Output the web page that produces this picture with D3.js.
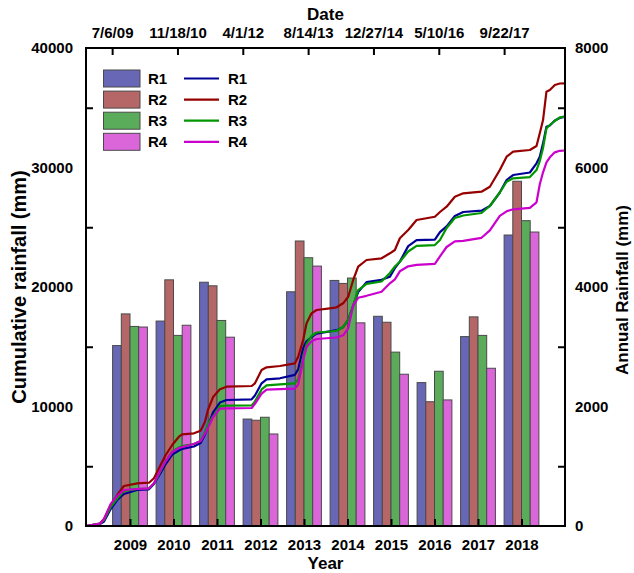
<!DOCTYPE html>
<html>
<head>
<meta charset="utf-8">
<script src="https://cdn.jsdelivr.net/npm/d3@7"></script>
<style>
  body { margin: 0; background: #fff; }
  text { font-family: "Liberation Sans", Arial, sans-serif; font-weight: bold; fill: #000; }
</style>
</head>
<body>
<svg id="chart" width="634" height="573"></svg>
<script>
// ---- Annual rainfall per gauge (mm), right axis ----
const years = [2009, 2010, 2011, 2012, 2013, 2014, 2015, 2016, 2017, 2018];
const seriesNames = ["R1", "R2", "R3", "R4"];
const annualR1 = [3020, 3430, 4080, 1790, 3920, 4110, 3510, 2400, 3170, 4870];
const annualR2 = [3550, 4120, 4020, 1770, 4770, 4060, 3410, 2080, 3500, 5770];
const annualR3 = [3340, 3190, 3440, 1820, 4490, 4150, 2910, 2590, 3190, 5110];
const annualR4 = [3330, 3360, 3160, 1540, 4350, 3400, 2540, 2110, 2640, 4920];

// ---- Cumulative rainfall per gauge (mm), left axis, against date ----
const cumDates = [
  "2008-12-18","2009-04-04","2009-05-05","2009-06-25","2009-08-14","2009-10-04",
  "2010-01-14","2010-04-14","2010-05-22","2010-07-12","2010-08-20","2010-10-09",
  "2010-11-29","2010-12-25","2011-03-24","2011-05-14","2011-06-16","2011-07-09",
  "2011-08-19","2011-10-09","2011-11-29","2012-06-08","2012-07-03","2012-08-23",
  "2012-09-30","2013-01-10","2013-05-05","2013-05-30","2013-07-07","2013-08-02",
  "2013-09-09","2013-10-18","2014-01-27","2014-03-20","2014-05-09","2014-06-17",
  "2014-07-25","2014-09-01","2014-11-04","2015-02-27","2015-05-02","2015-06-09",
  "2015-07-17","2015-09-19","2015-11-22","2016-04-10","2016-05-19","2016-07-09",
  "2016-09-10","2016-11-13","2017-04-02","2017-06-05","2017-08-20","2017-10-11",
  "2017-11-30","2018-04-07","2018-05-28","2018-06-22","2018-07-17","2018-08-12",
  "2018-09-07","2018-10-15","2018-11-22","2018-12-31"
];
const cumR1 = [
  0, 167, 377, 1423, 2176, 2678, 3012, 3071, 3515, 4435, 5188, 5983,
  6318, 6460, 6652, 6945, 7615, 8368, 9539, 10334, 10544, 10602, 10920, 11941,
  12276, 12360, 12652, 13113, 14900, 15453, 15804, 16097, 16290, 16390, 16642, 17270,
  18441, 19571, 20408, 20600, 20867, 21579, 22122, 23419, 23921, 23963, 24591, 25076,
  25951, 26276, 26385, 26778, 27908, 28954, 29372, 29581, 30349, 30907, 32021, 33414,
  33515, 33933, 34142, 34254
];
const cumR2 = [
  0, 209, 586, 1757, 2594, 3347, 3573, 3623, 3992, 5104, 5941, 6778,
  7473, 7673, 7757, 7975, 8703, 9707, 10820, 11439, 11657, 11715, 11941, 13054,
  13280, 13389, 13615, 14167, 15564, 16962, 17799, 18075, 18217, 18301, 18636, 19188,
  20585, 21698, 22259, 22401, 22819, 23096, 24075, 24769, 25606, 25882, 26276, 26719,
  27556, 27840, 27974, 28393, 29790, 30903, 31321, 31464, 31798, 32861, 33974, 36342,
  36484, 36903, 37029, 37046
];
const cumR3 = [
  0, 209, 502, 1590, 2301, 2929, 3096, 3138, 3557, 4603, 5439, 6234,
  6569, 6694, 6862, 7113, 7866, 8535, 9205, 10032, 10066, 10091, 10426, 11430,
  11765, 11848, 11932, 12267, 14112, 15228, 15899, 16192, 16276, 16334, 16652, 17280,
  18451, 19748, 20267, 20459, 21175, 21712, 22115, 22969, 23446, 23512, 23932, 24936,
  25773, 25982, 26191, 26777, 27907, 28810, 29093, 29201, 29787, 30540, 31628, 33276,
  33556, 33891, 34200, 34254
];
const cumR4 = [
  0, 209, 586, 1841, 2510, 3012, 3096, 3155, 3573, 4686, 5439, 6192,
  6527, 6611, 6862, 7113, 7699, 8201, 9122, 9825, 9850, 9875, 10226, 11079,
  11414, 11456, 11498, 11858, 13866, 14979, 15456, 15648, 15732, 15774, 15958, 16544,
  18468, 19096, 19263, 19598, 20309, 20644, 21313, 21732, 21857, 21941, 22569, 23347,
  23824, 23866, 24117, 24744, 25958, 26334, 26502, 26627, 27087, 28593, 29597, 30434,
  30852, 31270, 31396, 31421
];

// ---- Axis ticks ----
const dateTicks = ["2009-07-06","2010-11-18","2012-04-01","2013-08-14","2014-12-27","2016-05-10","2017-09-22"];
const dateDomain = ["2008-12-18", "2019-01-01"];
const leftTicks = [0, 10000, 20000, 30000, 40000];
const leftMinorTicks = [5000, 15000, 25000, 35000];
const rightTicks = [0, 2000, 4000, 6000, 8000];
const rightMinorTicks = [1000, 3000, 5000, 7000];

const barColors = { R1: "#6767b5", R2: "#b56767", R3: "#5aac5a", R4: "#da66da" };
const lineColors = { R1: "#000096", R2: "#960000", R3: "#009600", R4: "#cc00cc" };

const annual = { R1: annualR1, R2: annualR2, R3: annualR3, R4: annualR4 };
const cumulative = { R1: cumR1, R2: cumR2, R3: cumR3, R4: cumR4 };

// ---- Layout ----
const plot = { left: 86, right: 565, top: 48, bottom: 526 };
const svg = d3.select("#chart");
const parse = d3.timeParse("%Y-%m-%d");

const xYear = d3.scaleLinear().domain([2008, 2019]).range([plot.left + 0.5, plot.right]);
const groupWidth = 0.8 * (xYear(2010) - xYear(2009));
const xInner = d3.scaleBand().domain(seriesNames).range([-groupWidth / 2, groupWidth / 2]).padding(0);
const xDate = d3.scaleTime().domain(dateDomain.map(parse)).range([plot.left, plot.right]);
const yLeft = d3.scaleLinear().domain([0, 40000]).range([plot.bottom, plot.top]);
const yRight = d3.scaleLinear().domain([0, 8000]).range([plot.bottom, plot.top]);

// ---- Bars (annual rainfall) ----
const barData = [];
years.forEach((yr, i) => seriesNames.forEach(s => barData.push({ year: yr, s, v: annual[s][i] })));
svg.append("g").selectAll("rect").data(barData).join("rect")
  .attr("x", d => xYear(d.year) + xInner(d.s))
  .attr("width", xInner.bandwidth())
  .attr("y", d => yRight(d.v))
  .attr("height", d => yRight(0) - yRight(d.v))
  .attr("fill", d => barColors[d.s])
  .attr("stroke", "#4a4a4a")
  .attr("stroke-width", 1);

// ---- Cumulative lines ----
const line = d3.line().x(d => xDate(d.date)).y(d => yLeft(d.v));
seriesNames.forEach(s => {
  const pts = cumDates.map((dt, i) => ({ date: parse(dt), v: cumulative[s][i] }));
  svg.append("path").datum(pts)
    .attr("d", line)
    .attr("fill", "none")
    .attr("stroke", lineColors[s])
    .attr("stroke-width", 2.2)
    .attr("stroke-linejoin", "round");
});

// ---- Axes ----
function styleAxis(g) {
  g.select(".domain").remove();
  g.selectAll(".tick line").attr("stroke", "#000").attr("stroke-width", 2);
  g.selectAll(".tick text").style("font-size", "15px").style("font-family", '"Liberation Sans", Arial, sans-serif').style("font-weight", "bold");
}

svg.append("g").attr("transform", `translate(0,${plot.bottom})`)
  .call(d3.axisBottom(xYear).tickValues(years).tickFormat(d3.format("d")).tickSize(-7).tickPadding(13))
  .call(styleAxis);

svg.append("g").attr("transform", `translate(0,${plot.top})`)
  .call(d3.axisTop(xDate).tickValues(dateTicks.map(parse)).tickFormat(d3.timeFormat("%-m/%-d/%y")).tickSize(-7).tickPadding(10))
  .call(styleAxis);

svg.append("g").attr("transform", `translate(${plot.left},0)`)
  .call(d3.axisLeft(yLeft).tickValues(leftTicks).tickFormat(d3.format("d")).tickSize(0).tickPadding(13))
  .call(styleAxis);
svg.append("g").attr("transform", `translate(${plot.left},0)`)
  .call(d3.axisLeft(yLeft).tickValues(leftMinorTicks).tickFormat("").tickSize(-7))
  .call(styleAxis);

svg.append("g").attr("transform", `translate(${plot.right},0)`)
  .call(d3.axisRight(yRight).tickValues(rightTicks).tickFormat(d3.format("d")).tickSize(0).tickPadding(10))
  .call(styleAxis);
svg.append("g").attr("transform", `translate(${plot.right},0)`)
  .call(d3.axisRight(yRight).tickValues(rightMinorTicks).tickFormat("").tickSize(-7))
  .call(styleAxis);

// Plot frame
svg.append("rect")
  .attr("x", plot.left).attr("y", plot.top)
  .attr("width", plot.right - plot.left).attr("height", plot.bottom - plot.top)
  .attr("fill", "none").attr("stroke", "#000").attr("stroke-width", 2);

// ---- Titles ----
svg.append("text").attr("x", (plot.left + plot.right) / 2).attr("y", 20)
  .attr("text-anchor", "middle").style("font-size", "17px").text("Date");
svg.append("text").attr("x", (plot.left + plot.right) / 2).attr("y", 569)
  .attr("text-anchor", "middle").style("font-size", "17px").text("Year");
svg.append("text").attr("transform", `translate(26,${(plot.top + plot.bottom) / 2}) rotate(-90)`)
  .attr("text-anchor", "middle").style("font-size", "20px").text("Cumulative rainfall (mm)");
svg.append("text").attr("transform", `translate(628,${(plot.top + plot.bottom) / 2 + 3}) rotate(-90)`)
  .attr("text-anchor", "middle").style("font-size", "17px").text("Annual Rainfall (mm)");

// ---- Legend ----
const legend = svg.append("g");
seriesNames.forEach((s, i) => {
  const cy = 78.5 + i * 21.1;
  legend.append("rect").attr("x", 103.5).attr("y", cy - 8.5).attr("width", 36.5).attr("height", 17)
    .attr("fill", barColors[s]).attr("stroke", "#4a4a4a").attr("stroke-width", 1);
  legend.append("text").attr("x", 148).attr("y", cy + 5.5).style("font-size", "15px").text(s);
  legend.append("line").attr("x1", 184).attr("x2", 219).attr("y1", cy).attr("y2", cy)
    .attr("stroke", lineColors[s]).attr("stroke-width", 2.2);
  legend.append("text").attr("x", 228).attr("y", cy + 5.5).style("font-size", "15px").text(s);
});
</script>
</body>
</html>
